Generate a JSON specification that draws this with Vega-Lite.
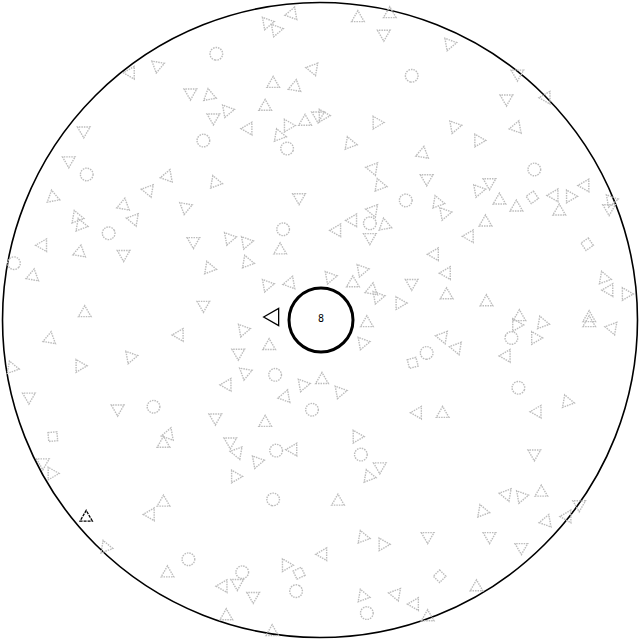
{
  "$schema": "https://vega.github.io/schema/vega-lite/v6.json",
  "width": 640,
  "height": 640,
  "padding": 0,
  "autosize": {"type": "fit", "contains": "padding"},
  "config": {"view": {"stroke": null}},
  "datasets": {
    "bits": [
      {"x":292,"y":13,"a":20,"k":"t"},{"x":267,"y":22,"a":200,"k":"t"},{"x":276,"y":29,"a":80,"k":"t"},{"x":216,"y":53,"a":100,"k":"c"},
      {"x":157,"y":65,"a":310,"k":"t"},{"x":130,"y":72,"a":150,"k":"t"},{"x":313,"y":68,"a":40,"k":"t"},{"x":273,"y":83,"a":0,"k":"t"},
      {"x":295,"y":86,"a":250,"k":"t"},{"x":190,"y":92,"a":180,"k":"t"},{"x":209,"y":95,"a":110,"k":"t"},{"x":227,"y":110,"a":200,"k":"t"},
      {"x":265,"y":106,"a":0,"k":"t"},{"x":213,"y":117,"a":180,"k":"t"},{"x":248,"y":128,"a":270,"k":"t"},{"x":288,"y":125,"a":330,"k":"t"},
      {"x":305,"y":121,"a":120,"k":"t"},{"x":318,"y":115,"a":60,"k":"t"},{"x":279,"y":135,"a":100,"k":"t"},{"x":287,"y":148,"a":20,"k":"c"},
      {"x":203,"y":140,"a":0,"k":"c"},{"x":83,"y":130,"a":300,"k":"t"},{"x":68,"y":160,"a":180,"k":"t"},{"x":86,"y":174,"a":0,"k":"c"},
      {"x":167,"y":176,"a":20,"k":"t"},{"x":215,"y":182,"a":340,"k":"t"},{"x":148,"y":190,"a":280,"k":"t"},{"x":52,"y":197,"a":110,"k":"t"},
      {"x":123,"y":205,"a":250,"k":"t"},{"x":185,"y":207,"a":190,"k":"t"},{"x":299,"y":197,"a":300,"k":"t"},{"x":133,"y":219,"a":40,"k":"t"},
      {"x":76,"y":217,"a":220,"k":"t"},{"x":80,"y":225,"a":100,"k":"t"},{"x":108,"y":233,"a":330,"k":"c"},{"x":283,"y":229,"a":0,"k":"c"},
      {"x":193,"y":241,"a":300,"k":"t"},{"x":229,"y":238,"a":200,"k":"t"},{"x":246,"y":242,"a":80,"k":"t"},{"x":42,"y":245,"a":270,"k":"t"},
      {"x":79,"y":252,"a":10,"k":"t"},{"x":123,"y":254,"a":180,"k":"t"},{"x":280,"y":250,"a":0,"k":"t"},{"x":13,"y":263,"a":40,"k":"c"},
      {"x":247,"y":262,"a":220,"k":"t"},{"x":209,"y":268,"a":100,"k":"t"},{"x":32,"y":276,"a":250,"k":"t"},{"x":267,"y":285,"a":200,"k":"t"},
      {"x":290,"y":283,"a":20,"k":"t"},{"x":203,"y":305,"a":180,"k":"t"},{"x":84,"y":313,"a":0,"k":"t"},
      {"x":358,"y":17,"a":0,"k":"t"},{"x":390,"y":13,"a":120,"k":"t"},{"x":384,"y":33,"a":300,"k":"t"},{"x":450,"y":43,"a":320,"k":"t"},
      {"x":412,"y":75,"a":100,"k":"c"},{"x":518,"y":73,"a":60,"k":"t"},{"x":507,"y":98,"a":300,"k":"t"},{"x":547,"y":97,"a":30,"k":"t"},
      {"x":323,"y":115,"a":90,"k":"t"},{"x":377,"y":122,"a":330,"k":"t"},{"x":455,"y":126,"a":200,"k":"t"},{"x":517,"y":127,"a":140,"k":"t"},
      {"x":479,"y":140,"a":330,"k":"t"},{"x":350,"y":143,"a":100,"k":"t"},{"x":423,"y":153,"a":10,"k":"t"},{"x":373,"y":168,"a":160,"k":"t"},
      {"x":535,"y":169,"a":0,"k":"c"},{"x":427,"y":178,"a":300,"k":"t"},{"x":380,"y":185,"a":220,"k":"t"},{"x":490,"y":182,"a":180,"k":"t"},
      {"x":479,"y":190,"a":80,"k":"t"},{"x":500,"y":200,"a":0,"k":"t"},{"x":517,"y":207,"a":0,"k":"t"},{"x":533,"y":197,"a":100,"k":"d"},
      {"x":555,"y":195,"a":270,"k":"t"},{"x":571,"y":196,"a":90,"k":"t"},{"x":586,"y":185,"a":30,"k":"t"},{"x":560,"y":211,"a":0,"k":"t"},
      {"x":406,"y":200,"a":0,"k":"c"},{"x":438,"y":202,"a":220,"k":"t"},{"x":445,"y":213,"a":80,"k":"t"},{"x":373,"y":210,"a":40,"k":"t"},
      {"x":353,"y":220,"a":270,"k":"t"},{"x":370,"y":223,"a":0,"k":"c"},{"x":385,"y":225,"a":110,"k":"t"},{"x":370,"y":237,"a":180,"k":"t"},
      {"x":337,"y":230,"a":270,"k":"t"},{"x":612,"y":200,"a":200,"k":"t"},{"x":610,"y":208,"a":300,"k":"t"},{"x":486,"y":222,"a":0,"k":"t"},
      {"x":470,"y":236,"a":270,"k":"t"},{"x":588,"y":244,"a":100,"k":"d"},{"x":435,"y":254,"a":150,"k":"t"},{"x":362,"y":270,"a":80,"k":"t"},
      {"x":447,"y":273,"a":270,"k":"t"},{"x":330,"y":277,"a":200,"k":"t"},{"x":353,"y":283,"a":0,"k":"t"},{"x":412,"y":283,"a":300,"k":"t"},
      {"x":372,"y":290,"a":10,"k":"t"},{"x":378,"y":297,"a":200,"k":"t"},{"x":447,"y":295,"a":0,"k":"t"},{"x":400,"y":303,"a":90,"k":"t"},
      {"x":487,"y":302,"a":0,"k":"t"},{"x":605,"y":278,"a":100,"k":"t"},{"x":610,"y":290,"a":270,"k":"t"},{"x":627,"y":294,"a":330,"k":"t"},
      {"x":520,"y":317,"a":0,"k":"t"},{"x":590,"y":318,"a":0,"k":"t"},
      {"x":49,"y":339,"a":250,"k":"t"},{"x":179,"y":335,"a":30,"k":"t"},{"x":243,"y":330,"a":200,"k":"t"},{"x":11,"y":368,"a":100,"k":"t"},
      {"x":79,"y":366,"a":90,"k":"t"},{"x":130,"y":357,"a":320,"k":"t"},{"x":238,"y":353,"a":180,"k":"t"},{"x":269,"y":346,"a":0,"k":"t"},
      {"x":245,"y":373,"a":190,"k":"t"},{"x":275,"y":375,"a":0,"k":"c"},{"x":303,"y":385,"a":200,"k":"t"},{"x":227,"y":385,"a":270,"k":"t"},
      {"x":285,"y":397,"a":20,"k":"t"},{"x":28,"y":397,"a":180,"k":"t"},{"x":312,"y":410,"a":0,"k":"c"},{"x":117,"y":409,"a":300,"k":"t"},
      {"x":153,"y":407,"a":0,"k":"c"},{"x":215,"y":418,"a":180,"k":"t"},{"x":265,"y":423,"a":0,"k":"t"},{"x":52,"y":437,"a":40,"k":"d"},
      {"x":168,"y":435,"a":20,"k":"t"},{"x":163,"y":444,"a":240,"k":"t"},{"x":230,"y":442,"a":300,"k":"t"},{"x":237,"y":453,"a":160,"k":"t"},
      {"x":257,"y":462,"a":80,"k":"t"},{"x":276,"y":451,"a":0,"k":"c"},{"x":293,"y":450,"a":270,"k":"t"},{"x":42,"y":463,"a":300,"k":"t"},
      {"x":51,"y":474,"a":90,"k":"t"},{"x":235,"y":477,"a":330,"k":"t"},{"x":273,"y":500,"a":100,"k":"c"},{"x":163,"y":503,"a":120,"k":"t"},
      {"x":150,"y":515,"a":270,"k":"t"},{"x":105,"y":548,"a":100,"k":"t"},{"x":188,"y":560,"a":0,"k":"c"},{"x":167,"y":574,"a":0,"k":"t"},
      {"x":242,"y":573,"a":0,"k":"c"},{"x":223,"y":587,"a":270,"k":"t"},{"x":237,"y":584,"a":180,"k":"t"},{"x":253,"y":597,"a":300,"k":"t"},
      {"x":286,"y":566,"a":90,"k":"t"},{"x":299,"y":574,"a":200,"k":"d"},{"x":296,"y":592,"a":300,"k":"c"},{"x":226,"y":617,"a":0,"k":"t"},
      {"x":272,"y":633,"a":0,"k":"t"},
      {"x":367,"y":323,"a":0,"k":"t"},{"x":443,"y":337,"a":40,"k":"t"},{"x":457,"y":348,"a":160,"k":"t"},{"x":427,"y":353,"a":90,"k":"c"},
      {"x":413,"y":363,"a":30,"k":"d"},{"x":363,"y":343,"a":200,"k":"t"},{"x":517,"y":325,"a":330,"k":"t"},{"x":543,"y":323,"a":100,"k":"t"},
      {"x":590,"y":323,"a":0,"k":"t"},{"x":613,"y":328,"a":40,"k":"t"},{"x":512,"y":338,"a":200,"k":"c"},{"x":536,"y":338,"a":90,"k":"t"},
      {"x":507,"y":356,"a":270,"k":"t"},{"x":519,"y":388,"a":20,"k":"c"},{"x":568,"y":402,"a":100,"k":"t"},{"x":538,"y":412,"a":270,"k":"t"},
      {"x":340,"y":392,"a":200,"k":"t"},{"x":322,"y":380,"a":0,"k":"t"},{"x":418,"y":413,"a":270,"k":"t"},{"x":443,"y":414,"a":0,"k":"t"},
      {"x":357,"y":437,"a":90,"k":"t"},{"x":361,"y":455,"a":0,"k":"c"},{"x":380,"y":467,"a":300,"k":"t"},{"x":369,"y":477,"a":220,"k":"t"},
      {"x":535,"y":454,"a":300,"k":"t"},{"x":338,"y":502,"a":120,"k":"t"},{"x":507,"y":495,"a":280,"k":"t"},{"x":522,"y":497,"a":200,"k":"t"},
      {"x":542,"y":493,"a":0,"k":"t"},{"x":483,"y":512,"a":100,"k":"t"},{"x":547,"y":522,"a":260,"k":"t"},{"x":568,"y":517,"a":30,"k":"t"},
      {"x":580,"y":505,"a":60,"k":"t"},{"x":363,"y":538,"a":100,"k":"t"},{"x":383,"y":545,"a":90,"k":"t"},{"x":428,"y":537,"a":300,"k":"t"},
      {"x":490,"y":537,"a":180,"k":"t"},{"x":522,"y":548,"a":60,"k":"t"},{"x":323,"y":555,"a":30,"k":"t"},{"x":440,"y":577,"a":90,"k":"d"},
      {"x":477,"y":588,"a":0,"k":"t"},{"x":363,"y":597,"a":100,"k":"t"},{"x":396,"y":595,"a":280,"k":"t"},{"x":415,"y":605,"a":270,"k":"t"},
      {"x":367,"y":614,"a":0,"k":"c"},{"x":428,"y":618,"a":0,"k":"t"}
    ]
  },
  "layer": [
    {
      "data": {"values": [{"x": 320, "y": 320}]},
      "mark": {"type": "point", "shape": "circle", "filled": false, "stroke": "black", "strokeWidth": 1.6, "size": 403200, "opacity": 1},
      "encoding": {
        "x": {"field": "x", "type": "quantitative", "scale": {"domain": [0, 640]}, "axis": null},
        "y": {"field": "y", "type": "quantitative", "scale": {"domain": [640, 0]}, "axis": null}
      }
    },
    {
      "data": {"name": "bits"},
      "mark": {"type": "point", "filled": false, "stroke": "#bcbcbc", "strokeWidth": 1.4, "strokeDash": [1.5, 1], "size": 160, "opacity": 1},
      "encoding": {
        "x": {"field": "x", "type": "quantitative", "scale": {"domain": [0, 640]}, "axis": null},
        "y": {"field": "y", "type": "quantitative", "scale": {"domain": [640, 0]}, "axis": null},
        "angle": {"field": "a", "type": "quantitative", "scale": {"domain": [0, 360], "range": [0, 360]}, "legend": null},
        "shape": {"field": "k", "type": "nominal", "scale": {"domain": ["t", "c", "d"], "range": ["triangle", "circle", "diamond"]}, "legend": null}
      }
    },
    {
      "data": {"values": [{"x": 321, "y": 320}]},
      "mark": {"type": "point", "shape": "circle", "filled": false, "stroke": "black", "strokeWidth": 3, "size": 4096, "opacity": 1},
      "encoding": {
        "x": {"field": "x", "type": "quantitative", "scale": {"domain": [0, 640]}, "axis": null},
        "y": {"field": "y", "type": "quantitative", "scale": {"domain": [640, 0]}, "axis": null}
      }
    },
    {
      "data": {"values": [{"x": 271, "y": 317}]},
      "mark": {"type": "point", "shape": "triangle-left", "filled": false, "stroke": "black", "strokeWidth": 1.3, "size": 300, "opacity": 1},
      "encoding": {
        "x": {"field": "x", "type": "quantitative", "scale": {"domain": [0, 640]}, "axis": null},
        "y": {"field": "y", "type": "quantitative", "scale": {"domain": [640, 0]}, "axis": null}
      }
    },
    {
      "data": {"values": [{"x": 87, "y": 519}]},
      "mark": {"type": "point", "shape": "triangle-right", "filled": false, "stroke": "black", "strokeWidth": 1.3, "strokeDash": [3, 1], "size": 150, "opacity": 1, "angle": 30},
      "encoding": {
        "x": {"field": "x", "type": "quantitative", "scale": {"domain": [0, 640]}, "axis": null},
        "y": {"field": "y", "type": "quantitative", "scale": {"domain": [640, 0]}, "axis": null}
      }
    },
    {
      "data": {"values": [{"x": 321, "y": 319, "t": "8"}]},
      "mark": {"type": "text", "font": "DejaVu Sans Mono", "fontSize": 10, "fill": "black", "baseline": "middle", "align": "center"},
      "encoding": {
        "x": {"field": "x", "type": "quantitative", "scale": {"domain": [0, 640]}, "axis": null},
        "y": {"field": "y", "type": "quantitative", "scale": {"domain": [640, 0]}, "axis": null},
        "text": {"field": "t"}
      }
    }
  ]
}
